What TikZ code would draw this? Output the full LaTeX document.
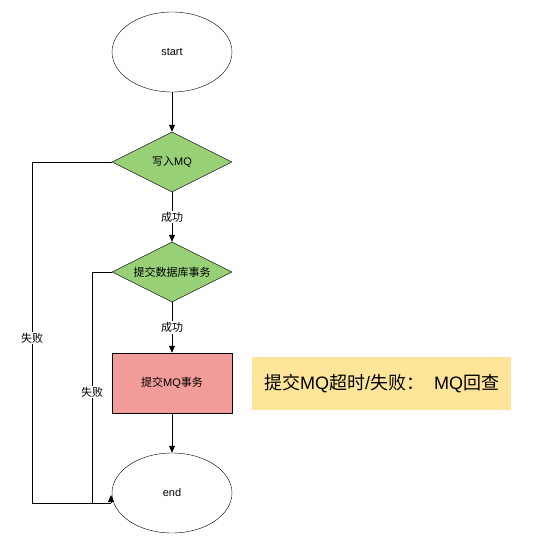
\documentclass[tikz,border=0pt]{standalone}
\usepackage{fontspec}
\setmainfont{Liberation Sans}
\newfontfamily\cjk{Noto Sans CJK SC}
\usetikzlibrary{shapes.geometric,arrows.meta}
\definecolor{dgreen}{HTML}{97D077}
\definecolor{dred}{HTML}{F19C99}
\definecolor{dyellow}{HTML}{FFE599}
\begin{document}
\begin{tikzpicture}[x=1pt,y=-1pt,font=\fontsize{11}{13}\selectfont]
  \tikzset{el/.style={draw,ellipse,minimum width=120pt,minimum height=80pt,inner sep=0pt},
    dm/.style={draw,diamond,fill=dgreen,minimum width=120pt,minimum height=60pt,inner sep=0pt,aspect=2},
    bx/.style={draw,rectangle,fill=dred,minimum width=120pt,minimum height=60pt},
    lb/.style={fill=white,inner sep=1pt},
    ar/.style={-{Triangle[length=7pt,width=6pt]}}}
  \useasboundingbox (0,0) rectangle (533,545);
  \node[el] (s) at (172,52) {start};
  \node[dm] (d1) at (172,162) {{\cjk 写入}MQ};
  \node[dm] (d2) at (172,272) {\cjk 提交数据库事务};
  \node[bx] (t) at (172,383) {{\cjk 提交}MQ{\cjk 事务}};
  \node[el] (e) at (172,493) {end};
  \node[fill=dyellow,minimum width=259pt,minimum height=53pt,font=\fontsize{18}{21}\selectfont]
    (n) at (381.5,383.5) {{\cjk 提交}MQ{\cjk 超时}/{\cjk 失败：}\ \ MQ{\cjk 回查}};
  \coordinate (j1) at (32,503);
  \coordinate (j2) at (92,503);
  \coordinate (k) at (111,503);
  \coordinate (tip) at (111,495);
  \draw[ar,line width=0.8pt] (s) -- (d1);
  \draw[ar,line width=0.8pt] (d1) -- node[lb] {\cjk 成功} (d2);
  \draw[ar,line width=0.8pt] (d2) -- node[lb] {\cjk 成功} (t);
  \draw[ar,line width=0.8pt] (t) -- (e);
  \draw[line width=0.8pt] (d1.west) -| node[lb,pos=0.758] {\cjk 失败} (j1) -- (k);
  \draw[line width=0.8pt] (d2.west) -| node[lb,pos=0.76] {\cjk 失败} (j2);
  \draw[ar,line width=0.8pt] (k) -- (tip);
\end{tikzpicture}
\end{document}
